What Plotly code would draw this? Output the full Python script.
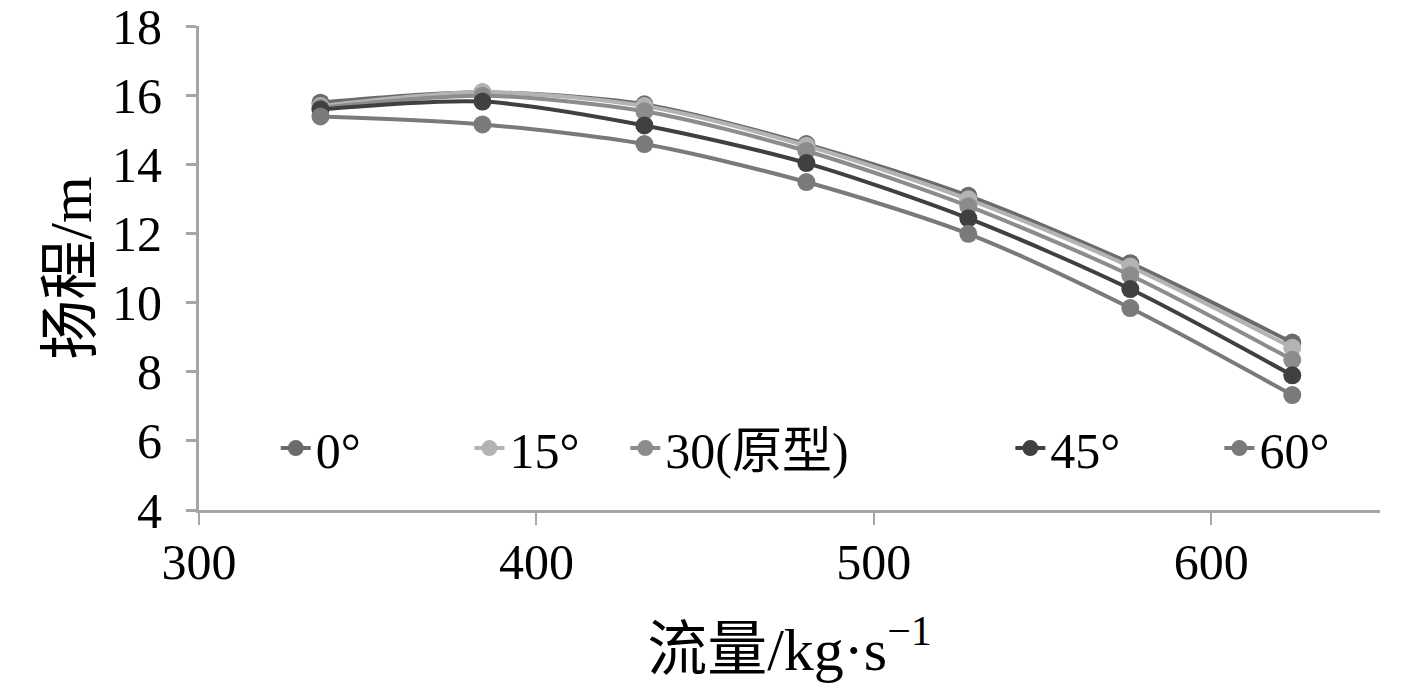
import plotly.graph_objs as go

# 流量 (kg/s)
flow = [336, 384, 432, 480, 528, 576, 624]

# 扬程 (m) per angle
head_0 = [15.8, 16.1, 15.75, 14.6, 13.1, 11.15, 8.85]
head_15 = [15.7, 16.1, 15.7, 14.55, 13.0, 11.05, 8.7]
head_30 = [15.65, 16.0, 15.55, 14.4, 12.8, 10.8, 8.35]
head_45 = [15.6, 15.83, 15.14, 14.05, 12.45, 10.4, 7.9]
head_60 = [15.4, 15.17, 14.6, 13.5, 12.0, 9.85, 7.33]

names = ["0°", "15°", "30(原型)", "45°", "60°"]
colors = ["#6b6b6b", "#b3b3b3", "#8c8c8c", "#404040", "#7a7a7a"]
series = [head_0, head_15, head_30, head_45, head_60]
# legend slot of each entry (paper x)
legend_x = [0.065, 0.229, 0.361, 0.687, 0.864]

FONT = "Liberation Serif, Times New Roman, Noto Sans CJK SC"

fig = go.Figure()
legends = {}
for i, (name, color, ys) in enumerate(zip(names, colors, series)):
    key = "legend" if i == 0 else f"legend{i + 1}"
    fig.add_trace(go.Scatter(x=flow, y=ys, name=name, mode="lines+markers",
                             line=dict(color=color, width=4, shape="spline", smoothing=0.8),
                             marker=dict(color=color, size=18), legend=key))
    legends[key] = dict(orientation="h", x=legend_x[i], y=0.128, xanchor="left", yanchor="middle",
                        bgcolor="rgba(0,0,0,0)", font=dict(family=FONT, size=50, color="black"))

axis_color = "#a6a6a6"
fig.update_layout(
    width=1417, height=683,
    margin=dict(l=199, r=37, t=26, b=173),
    paper_bgcolor="white", plot_bgcolor="white",
    font=dict(family=FONT, size=50, color="black"),
    showlegend=True,
    xaxis=dict(range=[300, 650], tickvals=[300, 400, 500, 600], showgrid=False,
               zeroline=False, showline=True, linecolor=axis_color, linewidth=3,
               ticks="outside", ticklen=12, tickwidth=2, tickcolor=axis_color,
               automargin=False, ticklabelstandoff=-6, ticklabeloverflow="allow",
               title=dict(text="流量/kg·s<sup>−1</sup>", standoff=40)),
    yaxis=dict(range=[4, 18.02], tickvals=[4, 6, 8, 10, 12, 14, 16, 18], showgrid=False,
               zeroline=False, showline=True, linecolor=axis_color, linewidth=3,
               ticks="outside", ticklen=10, tickwidth=3, tickcolor=axis_color,
               automargin=False, ticklabelstandoff=14, ticklabeloverflow="allow",
               title=dict(text="扬程/m", standoff=2)),
)
fig.update_layout(**legends)

fig.write_html("out.html", config={"displayModeBar": False},
               post_script="document.body.style.margin='0';")
